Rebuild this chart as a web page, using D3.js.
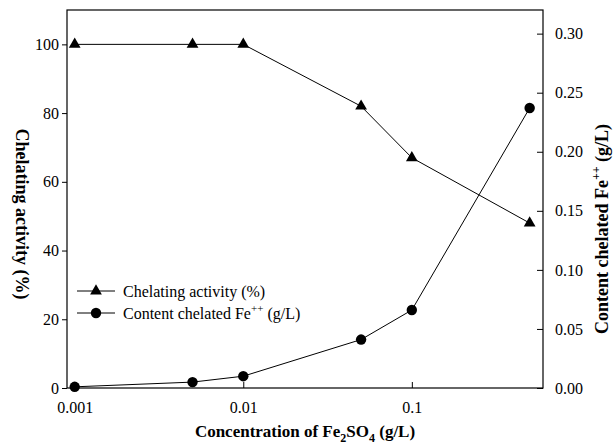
<!DOCTYPE html>
<html>
<head>
<meta charset="utf-8">
<script src="https://cdn.jsdelivr.net/npm/d3@7"></script>
<style>
  body { margin: 0; background: #fff; }
  text { font-family: "Liberation Serif", "Times New Roman", serif; fill: #000; }
</style>
</head>
<body>
<div id="chart"></div>
<script>
const width = 613;
const height = 448;

// values
const concentration = [0.001, 0.005, 0.01, 0.05, 0.1, 0.5];
const chelating = [100, 100, 100, 82, 67, 48];
const content = [0.001, 0.005, 0.01, 0.041, 0.066, 0.237];

const xTicks = [0.001, 0.01, 0.1];
const xTickLabels = ['0.001', '0.01', '0.1'];
const leftTicks = [0, 20, 40, 60, 80, 100];
const rightTicks = [0, 0.05, 0.10, 0.15, 0.20, 0.25, 0.30];

const margin = {top: 10, right: 70, bottom: 60, left: 67};
const innerW = width - margin.left - margin.right;
const innerH = height - margin.top - margin.bottom;

const svg = d3.select('#chart').append('svg')
  .attr('width', width)
  .attr('height', height);

const g = svg.append('g')
  .attr('transform', `translate(${margin.left},${margin.top})`);

// scales
const x = d3.scaleLog().domain([0.0009, 0.6]).range([0, innerW]);
const yLeft = d3.scaleLinear().domain([0, 110]).range([innerH, 0]);
const yRight = d3.scaleLinear().domain([0, 0.32]).range([innerH, 0]);

// frame
g.append('rect')
  .attr('width', innerW)
  .attr('height', innerH)
  .attr('fill', 'none')
  .attr('stroke', '#000')
  .attr('stroke-width', 1.2);

// axes
const xAxis = d3.axisBottom(x)
  .tickValues(xTicks)
  .tickFormat((d, i) => xTickLabels[i])
  .tickSizeInner(-6)
  .tickSizeOuter(0)
  .tickPadding(14);
const g_x = g.append('g').attr('transform', `translate(0,${innerH})`).call(xAxis);

const leftAxis = d3.axisLeft(yLeft)
  .tickValues(leftTicks)
  .tickSizeInner(5)
  .tickSizeOuter(0)
  .tickPadding(3);
const g_l = g.append('g').call(leftAxis);

const rightAxis = d3.axisRight(yRight)
  .tickValues(rightTicks)
  .tickFormat(d3.format('.2f'))
  .tickSizeInner(-6)
  .tickSizeOuter(0)
  .tickPadding(12);
const g_r = g.append('g').attr('transform', `translate(${innerW},0)`).call(rightAxis);

[g_x, g_l, g_r].forEach((ax) => {
  ax.attr('font-family', null).attr('font-size', null);
  ax.select('.domain').remove();
  ax.selectAll('line').attr('stroke', '#000');
  ax.selectAll('text')
    .attr('font-family', 'Liberation Serif, serif')
    .attr('font-size', 16)
    .attr('fill', '#000');
});

// series lines
const lineLeft = d3.line()
  .x((d, i) => x(concentration[i]))
  .y((d) => yLeft(d));
const lineRight = d3.line()
  .x((d, i) => x(concentration[i]))
  .y((d) => yRight(d));

g.append('path')
  .datum(chelating)
  .attr('d', lineLeft)
  .attr('fill', 'none')
  .attr('stroke', '#000')
  .attr('stroke-width', 1);

g.append('path')
  .datum(content)
  .attr('d', lineRight)
  .attr('fill', 'none')
  .attr('stroke', '#000')
  .attr('stroke-width', 1);

// markers
const tri = d3.symbol().type(d3.symbolTriangle).size(60);
g.selectAll('.tri').data(chelating).join('path')
  .attr('class', 'tri')
  .attr('d', tri)
  .attr('transform', (d, i) => `translate(${x(concentration[i])},${yLeft(d)})`)
  .attr('fill', '#000');

g.selectAll('.dot').data(content).join('circle')
  .attr('class', 'dot')
  .attr('cx', (d, i) => x(concentration[i]))
  .attr('cy', (d) => yRight(d))
  .attr('r', 5.2)
  .attr('fill', '#000');

// legend
const legend = g.append('g').attr('transform', 'translate(10,281)');
const legendRows = [
  {label: 'Chelating activity (%)', type: 'tri'},
  {label: 'Content chelated Fe', sup: '++', tail: ' (g/L)', type: 'dot'}
];
legendRows.forEach((row, i) => {
  const r = legend.append('g').attr('transform', `translate(0,${i * 22})`);
  r.append('line').attr('x1', 0).attr('x2', 38).attr('y1', 0).attr('y2', 0)
    .attr('stroke', '#000').attr('stroke-width', 1);
  if (row.type === 'tri') {
    r.append('path').attr('d', tri).attr('transform', 'translate(19,0)').attr('fill', '#000');
  } else {
    r.append('circle').attr('cx', 19).attr('cy', 0).attr('r', 5.2).attr('fill', '#000');
  }
  const t = r.append('text').attr('x', 46).attr('y', 5.5).style('font-size', '16px');
  t.append('tspan').text(row.label);
  if (row.sup) {
    t.append('tspan').attr('dy', -7).style('font-size', '11px').text(row.sup);
    t.append('tspan').attr('dy', 7).text(row.tail);
  }
});

// axis titles
const xTitle = svg.append('text')
  .attr('x', margin.left + innerW / 2)
  .attr('y', 437)
  .attr('text-anchor', 'middle')
  .style('font-size', '17px')
  .style('font-weight', 'bold');
xTitle.append('tspan').text('Concentration of Fe');
xTitle.append('tspan').attr('dy', 5).style('font-size', '12px').text('2');
xTitle.append('tspan').attr('dy', -5).text('SO');
xTitle.append('tspan').attr('dy', 5).style('font-size', '12px').text('4');
xTitle.append('tspan').attr('dy', -5).text(' (g/L)');

svg.append('text')
  .attr('transform', `translate(16,${margin.top + innerH / 2 + 15}) rotate(90)`)
  .attr('text-anchor', 'middle')
  .style('font-size', '18px')
  .style('font-weight', 'bold')
  .text('Chelating activity (%)');

const rTitle = svg.append('text')
  .attr('transform', `translate(608,${margin.top + innerH / 2 + 30}) rotate(-90)`)
  .attr('text-anchor', 'middle')
  .style('font-size', '18px')
  .style('font-weight', 'bold');
rTitle.append('tspan').text('Content chelated Fe');
rTitle.append('tspan').attr('dy', -8).style('font-size', '12px').text('++');
rTitle.append('tspan').attr('dy', 8).text(' (g/L)');
</script>
</body>
</html>
